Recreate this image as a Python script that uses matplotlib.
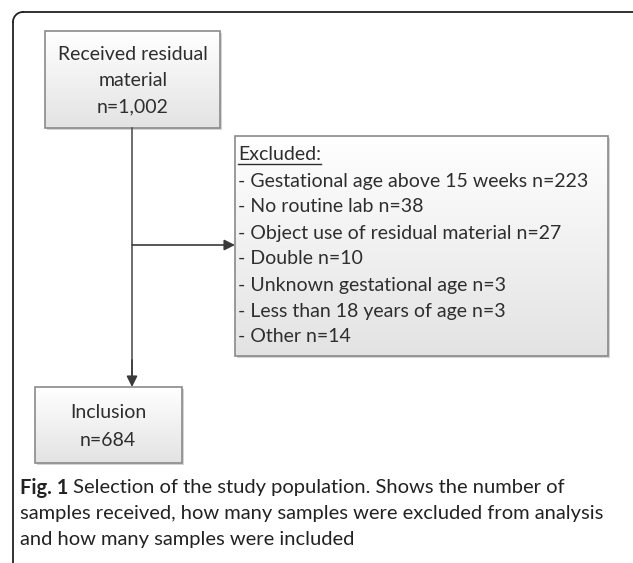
import numpy as np
import matplotlib.pyplot as plt

# data of the flow chart
received_label = ["Received residual", "material"]
received_n = 1002
excluded_reasons = [
    "Gestational age above 15 weeks",
    "No routine lab",
    "Object use of residual material",
    "Double",
    "Unknown gestational age",
    "Less than 18 years of age",
    "Other",
]
excluded_n = [223, 38, 27, 10, 3, 3, 14]
included_label = "Inclusion"
included_n = 684
caption_bold = "Fig. 1"
caption_lines = [
    " Selection of the study population. Shows the number of",
    "samples received, how many samples were excluded from analysis",
    "and how many samples were included",
]

W, H = 633, 563
fig = plt.figure(figsize=(W / 100, H / 100), dpi=100)
ax = fig.add_axes([0, 0, 1, 1])
ax.set_xlim(0, W)
ax.set_ylim(H, 0)
ax.axis('off')

box_font = 'Lato'
box_size = 14.0
text_color = '#2e2e2e'
edge_color = '#8a8a8a'


def gradient_box(x0, y0, x1, y1):
    # soft shadow
    ax.add_patch(plt.Rectangle((x0 + 2, y0 + 2), x1 - x0, y1 - y0,
                               facecolor='#d4d4d4', edgecolor='none', zorder=1))
    grad = np.linspace(1.0, 0.89, 100).reshape(-1, 1)
    ax.imshow(np.dstack([grad, grad, grad]), extent=(x0, x1, y1, y0),
              aspect='auto', zorder=2, interpolation='bilinear')
    ax.add_patch(plt.Rectangle((x0, y0), x1 - x0, y1 - y0, facecolor='none',
                               edgecolor=edge_color, lw=1.2, zorder=3))


# outer frame (top and left only, rounded corner)
ax.plot([13, 13], [H + 5, 22], color='#222222', lw=1.3, zorder=5)
ax.plot([23, W + 5], [12, 12], color='#222222', lw=1.3, zorder=5)
t = np.linspace(np.pi, 1.5 * np.pi, 20)
ax.plot(23 + 10 * np.cos(t), 22 + 10 * np.sin(t), color='#222222', lw=1.3, zorder=5)

# top box
gradient_box(45, 31, 220, 128)
top_lines = received_label + [f"n={received_n:,}"]
for i, s in enumerate(top_lines):
    ax.text(133, 54 + i * 26.5, s, ha='center', va='center', fontsize=box_size,
            family=box_font, color=text_color, zorder=4)

# excluded box
gradient_box(235, 136, 608, 356)
ex = ax.text(238, 155, "Excluded:", ha='left', va='center', fontsize=box_size,
             family=box_font, color=text_color, zorder=4)
fig.canvas.draw()
ex_bb = ex.get_window_extent().transformed(ax.transData.inverted())
ax.plot([238, ex_bb.x1], [164, 164], color=text_color, lw=1.0, zorder=4)
for i, (r, n) in enumerate(zip(excluded_reasons, excluded_n)):
    ax.text(238, 181 + i * 26, f"- {r} n={n}", ha='left', va='center',
            fontsize=box_size, family=box_font, color=text_color, zorder=4)

# inclusion box
gradient_box(35, 387, 182, 463)
ax.text(108, 413, included_label, ha='center', va='center', fontsize=box_size,
        family=box_font, color=text_color, zorder=4)
ax.text(108, 440, f"n={included_n}", ha='center', va='center', fontsize=box_size,
        family=box_font, color=text_color, zorder=4)

# connectors
ax.plot([132, 132], [128, 380], color='#555555', lw=1.2, zorder=3)
ax.annotate('', xy=(132, 387), xytext=(132, 360),
            arrowprops=dict(arrowstyle='-|>', color='#3a3a3a', lw=1.2,
                            mutation_scale=16, shrinkA=0, shrinkB=0))
ax.annotate('', xy=(235, 245), xytext=(132, 245),
            arrowprops=dict(arrowstyle='-|>', color='#3a3a3a', lw=1.2,
                            mutation_scale=16, shrinkA=0, shrinkB=0))

# caption
cap_font = 'Lato'
cap_size = 14.5
tb = ax.text(20, 488, caption_bold, ha='left', va='center', fontsize=cap_size,
             family=cap_font, fontweight='bold', color='#222222')
fig.canvas.draw()
bb = tb.get_window_extent().transformed(ax.transData.inverted())
ax.text(bb.x1, 488, caption_lines[0], ha='left', va='center', fontsize=cap_size,
        family=cap_font, color='#222222')
for i, s in enumerate(caption_lines[1:]):
    ax.text(20, 514 + i * 26, s, ha='left', va='center', fontsize=cap_size,
            family=cap_font, color='#222222')

fig.savefig('out.png', dpi=100)
